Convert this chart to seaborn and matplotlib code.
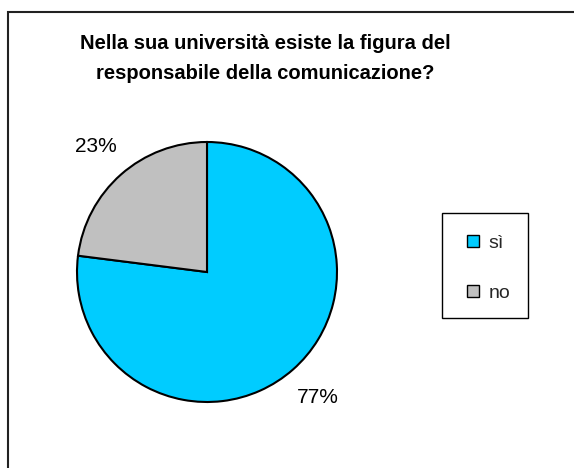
import matplotlib
matplotlib.use("Agg")
import matplotlib.pyplot as plt
import seaborn as sns
from matplotlib.patches import Patch, Rectangle

# Survey answers
title = "Nella sua università esiste la figura del\nresponsabile della comunicazione?"
categories = ["sì", "no"]
shares = [77, 23]
colors = ["#00CCFF", "#C0C0C0"]

sns.set_theme(style="white")
plt.rcParams["font.family"] = ["Liberation Sans", "DejaVu Sans"]

W, H = 574, 468
fig = plt.figure(figsize=(W / 100, H / 100), dpi=100, facecolor="white")


def px(x, y, w, h):
    """Pixel box (from top-left) -> figure-fraction rect."""
    return [x / W, 1 - (y + h) / H, w / W, h / H]


# outer chart frame (runs off the right and bottom edges)
fig.patches.append(Rectangle((8 / W, -0.2), 1.5, 456 / H + 0.2,
                             transform=fig.transFigure, fill=False,
                             edgecolor="#222222", linewidth=1.5))

# pie
cx, cy, r = 207, 272, 130
ax = fig.add_axes(px(cx - r, cy - r, 2 * r, 2 * r))
ax.pie(shares, colors=colors, startangle=90, counterclock=False,
       autopct="%.0f%%", pctdistance=1.29,
       wedgeprops=dict(edgecolor="black", linewidth=1.5),
       textprops=dict(fontsize=15, color="black"))
ax.set_xlim(-1, 1)
ax.set_ylim(-1, 1)
ax.axis("off")

# title
fig.text(265 / W, 1 - 34 / H, title, ha="center", va="top",
         fontsize=14.5, fontweight="bold", linespacing=1.72, color="black")

# legend box
fig.patches.append(Rectangle((442 / W, 1 - 318 / H), 86 / W, 105 / H,
                             transform=fig.transFigure, fill=False,
                             edgecolor="black", linewidth=1))
handles = [Patch(facecolor=c, edgecolor="black", linewidth=1) for c in colors]
fig.legend(handles, categories, loc="upper left",
           bbox_to_anchor=(467 / W, 1 - 235 / H), frameon=False,
           fontsize=14, handlelength=0.6, handleheight=0.6,
           handletextpad=0.5, labelspacing=1.68, borderpad=0,
           borderaxespad=0)

fig.savefig("out.png", dpi=100, facecolor="white")
